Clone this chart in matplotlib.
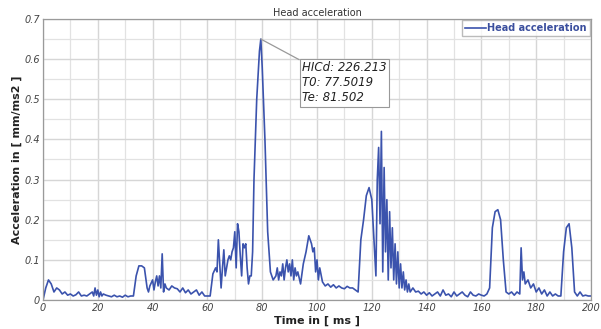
import matplotlib
matplotlib.use("Agg")
import matplotlib.pyplot as plt
from matplotlib.ticker import MultipleLocator

title = "Head acceleration"
series_name = "Head acceleration"
x_label = "Time in [ ms ]"
y_label = "Acceleration in [ mm/ms2 ]"
annot_text = "HICd: 226.213\nT0: 77.5019\nTe: 81.502"
peak_t, peak_a = 79.5, 0.65

time_ms = [0, 1, 2, 3, 4, 5, 6, 7, 8, 9, 10, 11, 12, 13, 14, 15, 16, 17, 18, 18.5, 19, 19.5, 20, 20.5, 21, 21.5, 22,
           23, 24, 25, 26, 27, 28, 29, 30, 31, 32, 33, 34, 35, 36, 37, 38, 38.5, 39, 40, 40.5, 41, 41.5, 42, 42.5,
           43, 43.5, 44, 44.5, 45, 46, 47, 48, 49, 50, 51, 52, 53, 54, 55, 56, 57, 58, 59, 60, 61, 62, 63,
           63.5, 64, 64.5, 65, 65.5, 66, 66.5, 67, 67.5, 68, 68.5, 69, 69.5, 70, 70.5, 71, 71.5, 72, 72.5, 73, 73.5,
           74, 74.5, 75, 75.5, 76, 76.5, 77, 78, 79, 79.5, 80, 81, 82, 83, 84, 85, 85.5, 86, 86.5, 87, 87.5, 88,
           88.5, 89, 89.5, 90, 90.5, 91, 91.5, 92, 92.5, 93, 94, 95, 96, 97, 98, 98.5, 99, 99.5, 100, 100.5, 101,
           102, 103, 104, 105, 106, 107, 108, 109, 110, 111, 112, 113, 114, 115, 116, 117, 118, 119, 120, 121,
           121.5, 122, 122.5, 123, 123.5, 124, 124.5, 125, 125.5, 126, 126.5, 127, 127.5, 128, 128.5, 129, 129.5,
           130, 130.5, 131, 131.5, 132, 132.5, 133, 133.5, 134, 135, 136, 137, 138, 139, 140, 141, 142, 143, 144,
           145, 146, 147, 148, 149, 150, 151, 152, 153, 154, 155, 156, 157, 158, 159, 160, 161, 162, 163, 164,
           165, 166, 167, 168, 169, 170, 171, 172, 173, 174, 174.5, 175, 175.5, 176, 177, 178, 179, 180, 181,
           182, 183, 184, 185, 186, 187, 188, 189, 190, 191, 192, 193, 194, 195, 196, 197, 198, 199, 200]

accel = [0.0, 0.03, 0.05, 0.04, 0.02, 0.03, 0.025, 0.015, 0.02, 0.012, 0.015, 0.01, 0.013, 0.02, 0.01, 0.012, 0.01, 0.015, 0.02, 0.01, 0.03, 0.012, 0.025, 0.008, 0.02, 0.01, 0.015,
         0.012, 0.01, 0.008, 0.012, 0.008, 0.01, 0.007, 0.012, 0.008, 0.01, 0.01, 0.06, 0.085, 0.085, 0.08, 0.03, 0.02, 0.035, 0.05, 0.025, 0.045, 0.06, 0.035, 0.06,
         0.03, 0.115, 0.02, 0.04, 0.03, 0.025, 0.035, 0.03, 0.028, 0.02, 0.03, 0.018, 0.025, 0.015, 0.02, 0.025, 0.012, 0.02, 0.01, 0.01, 0.01, 0.065, 0.08,
         0.07, 0.15, 0.09, 0.03, 0.08, 0.125, 0.06, 0.08, 0.10, 0.11, 0.10, 0.12, 0.13, 0.17, 0.08, 0.19, 0.17, 0.11, 0.06, 0.14, 0.13,
         0.14, 0.08, 0.04, 0.06, 0.06, 0.12, 0.30, 0.50, 0.62, 0.65, 0.58, 0.40, 0.17, 0.07, 0.05, 0.06, 0.08, 0.05, 0.07, 0.06, 0.09, 0.05,
         0.08, 0.10, 0.07, 0.09, 0.06, 0.10, 0.05, 0.08, 0.06, 0.07, 0.04, 0.09, 0.12, 0.16, 0.14, 0.12, 0.13, 0.07, 0.10, 0.05, 0.08,
         0.045, 0.035, 0.04, 0.032, 0.038, 0.03, 0.035, 0.03, 0.028, 0.034, 0.03, 0.03, 0.025, 0.02, 0.15, 0.20, 0.26, 0.28, 0.25, 0.12,
         0.06, 0.30, 0.38, 0.19, 0.42, 0.07, 0.33, 0.12, 0.25, 0.05, 0.22, 0.08, 0.18, 0.05, 0.14, 0.04, 0.12,
         0.03, 0.09, 0.03, 0.07, 0.025, 0.05, 0.02, 0.04, 0.02, 0.03, 0.02, 0.022, 0.015, 0.02, 0.012, 0.018, 0.01, 0.015, 0.02,
         0.01, 0.025, 0.012, 0.015, 0.008, 0.02, 0.01, 0.015, 0.02, 0.012, 0.008, 0.02, 0.012, 0.01, 0.015, 0.012, 0.01, 0.015, 0.03, 0.18,
         0.22, 0.225, 0.20, 0.10, 0.02, 0.015, 0.02, 0.012, 0.02, 0.015, 0.13, 0.05, 0.07, 0.04, 0.05, 0.03, 0.04, 0.02, 0.03,
         0.015, 0.025, 0.01, 0.02, 0.01, 0.015, 0.01, 0.01, 0.12, 0.18, 0.19, 0.13, 0.02, 0.01, 0.02, 0.01, 0.012, 0.01, 0.01]

line_color = "#3b53ad"

fig = plt.figure(figsize=(6.01, 3.29), dpi=100)
fig.patch.set_facecolor("white")
ax = fig.add_axes([43 / 601, 29 / 329, 548 / 601, 281 / 329])

ax.plot(time_ms, accel, color=line_color, lw=1.2, label=series_name)

ax.set_xlim(0, 200)
ax.set_ylim(0, 0.7)
ax.xaxis.set_major_locator(MultipleLocator(20))
ax.xaxis.set_minor_locator(MultipleLocator(10))
ax.yaxis.set_major_locator(MultipleLocator(0.1))
ax.yaxis.set_minor_locator(MultipleLocator(0.05))
ax.grid(which="major", color="#d6d6d6", lw=1.0)
ax.grid(which="minor", color="#e2e2e2", lw=0.9)
ax.set_axisbelow(True)

ax.set_yticks([0, 0.1, 0.2, 0.3, 0.4, 0.5, 0.6, 0.7])
ax.set_yticklabels(["0", "0.1", "0.2", "0.3", "0.4", "0.5", "0.6", "0.7"])
ax.tick_params(which="both", length=0, pad=2, labelsize=7, labelcolor="#444444")
for lab in ax.get_xticklabels() + ax.get_yticklabels():
    lab.set_fontstyle("italic")

for s in ax.spines.values():
    s.set_color("#9a9a9a")
    s.set_linewidth(0.9)

ax.set_xlabel(x_label, fontsize=8, fontweight="bold", color="#222222", labelpad=2)
ax.set_ylabel(y_label, fontsize=8, fontweight="bold", color="#222222", labelpad=2)
ax.set_title(title, fontsize=7, color="#333333", pad=2)

leg = ax.legend(loc="upper right", fontsize=7, frameon=True, fancybox=False,
                handlelength=2.2, handletextpad=0.1, borderpad=0.3,
                borderaxespad=0.15, edgecolor="#aaaaaa")
for t in leg.get_texts():
    t.set_color("#3b4f9e")
    t.set_fontweight("bold")

ax.annotate(annot_text, xy=(peak_t, peak_a), xytext=(94.5, 0.595),
            fontsize=8.5, fontstyle="italic", color="#222222", va="top", ha="left",
            linespacing=1.2,
            bbox=dict(boxstyle="square,pad=0.2", fc="white", ec="#999999", lw=0.8),
            arrowprops=dict(arrowstyle="-", color="#999999", lw=0.9,
                            shrinkA=0, shrinkB=0, relpos=(0, 1)))

fig.savefig("out.png", dpi=100)
